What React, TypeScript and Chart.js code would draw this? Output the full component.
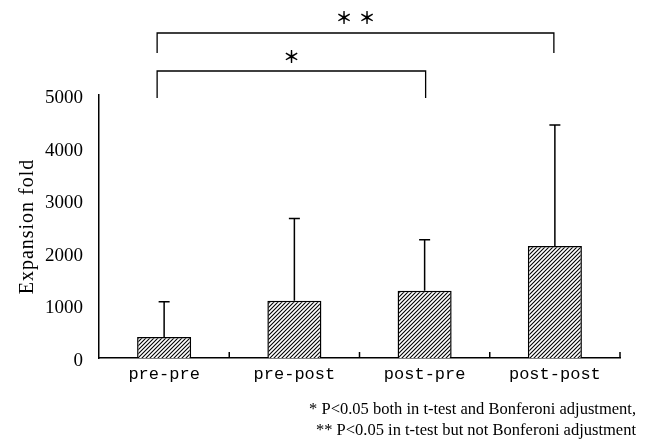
import React, { useEffect, useRef } from "react";
import { Chart, registerables } from "chart.js";

Chart.register(...registerables);

const categories = ["pre-pre", "pre-post", "post-pre", "post-post"];
const meanValues = [400, 1090, 1280, 2130];
const sdValues = [670, 1560, 970, 2300];
const yTicks = [0, 1000, 2000, 3000, 4000, 5000];
const yTitle = "Expansion fold";
const footnotes = [
  "* P<0.05 both in t-test and Bonferoni adjustment,",
  "** P<0.05 in t-test but not Bonferoni adjustment",
];
// significance brackets: [fromCategory, toCategory, label]
const bracketFrom = [0, 0];
const bracketTo = [2, 3];
const bracketLabels = ["*", "**"];

function makeHatch(): CanvasPattern | string {
  const c = document.createElement("canvas");
  const s = 4;
  c.width = s;
  c.height = s;
  const g = c.getContext("2d");
  if (!g) return "#777";
  g.fillStyle = "#fff";
  g.fillRect(0, 0, s, s);
  g.strokeStyle = "#000";
  g.lineWidth = 1.1;
  g.beginPath();
  g.moveTo(-1, s + 1);
  g.lineTo(s + 1, -1);
  g.moveTo(-1, 1);
  g.lineTo(1, -1);
  g.moveTo(s - 1, s + 1);
  g.lineTo(s + 1, s - 1);
  g.stroke();
  const p = g.createPattern(c, "repeat");
  return p || "#777";
}

const overlayPlugin = {
  id: "overlay",
  afterDatasetsDraw(chart: any) {
    const ctx = chart.ctx as CanvasRenderingContext2D;
    const xs = chart.scales.x;
    const ys = chart.scales.y;
    const area = chart.chartArea;
    const meta = chart.getDatasetMeta(0);
    ctx.save();
    // error bars (upper only)
    ctx.strokeStyle = "#000";
    ctx.lineWidth = 1.5;
    meta.data.forEach((bar: any, i: number) => {
      const x = bar.x;
      const yTop = ys.getPixelForValue(meanValues[i]);
      const yErr = ys.getPixelForValue(meanValues[i] + sdValues[i]);
      ctx.beginPath();
      ctx.moveTo(x, yTop);
      ctx.lineTo(x, yErr);
      ctx.moveTo(x - 5.5, yErr);
      ctx.lineTo(x + 5.5, yErr);
      ctx.stroke();
    });
    // x axis upward tick marks at category boundaries
    const catW = xs.getPixelForValue(1) - xs.getPixelForValue(0);
    ctx.lineWidth = 1.5;
    for (let i = 1; i <= categories.length; i++) {
      const x = xs.getPixelForValue(i) - catW / 2;
      ctx.beginPath();
      ctx.moveTo(x, area.bottom);
      ctx.lineTo(x, area.bottom - 6);
      ctx.stroke();
    }
    // significance brackets
    const levels = [
      { top: area.top - 24, drop: 27, starY: area.top - 38 },
      { top: area.top - 62, drop: 20, starY: area.top - 77 },
    ];
    ctx.lineWidth = 1.3;
    bracketFrom.forEach((f, k) => {
      const x1 = xs.getPixelForValue(f) - 7;
      const x2 = xs.getPixelForValue(bracketTo[k]) + (k === 0 ? 1 : -1);
      const lv = levels[k];
      ctx.beginPath();
      ctx.moveTo(x1, lv.top + lv.drop);
      ctx.lineTo(x1, lv.top);
      ctx.lineTo(x2, lv.top);
      ctx.lineTo(x2, lv.top + lv.drop);
      ctx.stroke();
      const mid = (x1 + x2) / 2;
      ctx.fillStyle = "#000";
      ctx.font = "bold 17px 'Noto Sans CJK JP'";
      ctx.textAlign = "center";
      ctx.textBaseline = "middle";
      const n = bracketLabels[k].length;
      for (let j = 0; j < n; j++) {
        const off = (j - (n - 1) / 2) * 23;
        ctx.fillText("\uFF0A", mid + off, lv.starY);
      }
    });
    // y axis title
    ctx.save();
    ctx.translate(28, (area.top + area.bottom) / 2);
    ctx.rotate(-Math.PI / 2);
    ctx.font = "20px 'Liberation Serif'";
    (ctx as any).letterSpacing = "1px";
    ctx.textAlign = "center";
    ctx.textBaseline = "middle";
    ctx.fillStyle = "#000";
    ctx.fillText(yTitle, 0, 0);
    ctx.restore();
    // footnotes
    ctx.font = "16.5px 'Liberation Serif'";
    ctx.textAlign = "right";
    ctx.textBaseline = "middle";
    ctx.fillStyle = "#000";
    ctx.fillText(footnotes[0], 636, 410);
    ctx.fillText(footnotes[1], 636, 431);
    ctx.restore();
  },
};

export default function App() {
  const ref = useRef<HTMLCanvasElement | null>(null);
  useEffect(() => {
    if (!ref.current) return;
    const hatch = makeHatch();
    const chart = new Chart(ref.current, {
      type: "bar",
      data: {
        labels: categories,
        datasets: [
          {
            data: meanValues,
            backgroundColor: hatch as any,
            borderColor: "#000",
            borderWidth: 1.5,
            barPercentage: 0.415,
            categoryPercentage: 1,
          },
        ],
      },
      options: {
        responsive: false,
        animation: false,
        events: [],
        layout: { padding: { top: 95, right: 36, left: 0, bottom: 49 } },
        plugins: { legend: { display: false }, tooltip: { enabled: false } },
        scales: {
          x: {
            grid: { display: false },
            border: { display: true, color: "#000", width: 1.5 },
            ticks: {
              color: "#000",
              font: { family: "'Liberation Mono'", size: 17 },
              padding: -2,
            },
            afterFit: (s: any) => {
              s.height = 40;
            },
          },
          y: {
            min: 0,
            max: 5000,
            afterBuildTicks: (s: any) => {
              s.ticks = yTicks.map((v) => ({ value: v }));
            },
            grid: { display: false },
            border: { display: true, color: "#000", width: 1.5 },
            ticks: {
              color: "#000",
              font: { family: "'Liberation Serif'", size: 19 },
              padding: 8,
              labelOffset: 3,
              callback: (v: any) => String(v),
            },
            afterFit: (s: any) => {
              s.width = 99;
            },
          },
        },
      },
      plugins: [overlayPlugin],
    });
    return () => chart.destroy();
  }, []);
  return (
    <div style={{ position: "fixed", left: 0, top: 0, width: 656, height: 447, background: "#fff" }}>
      <canvas ref={ref} width={656} height={447} style={{ width: 656, height: 447 }} />
    </div>
  );
}
